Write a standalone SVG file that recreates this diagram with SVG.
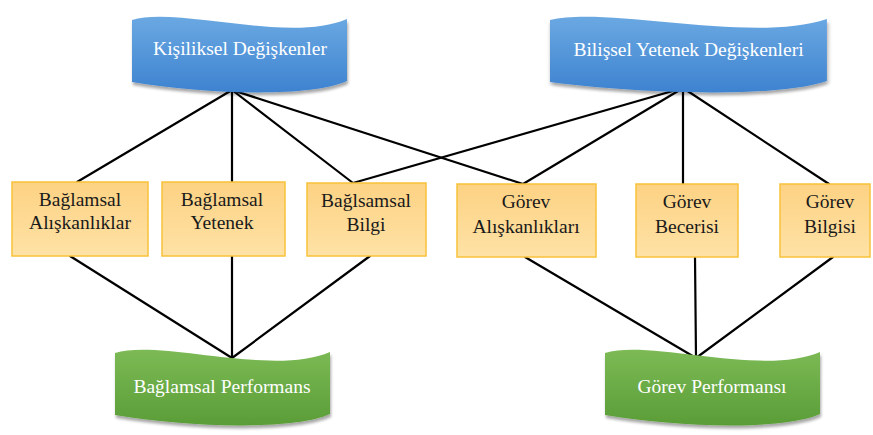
<svg xmlns="http://www.w3.org/2000/svg" width="873" height="435" viewBox="0 0 873 435">
<defs>
<linearGradient id="gBlue" x1="0" y1="0" x2="0" y2="1">
<stop offset="0" stop-color="#6aa8e2"/><stop offset="1" stop-color="#3e83d0"/>
</linearGradient>
<linearGradient id="gGreen" x1="0" y1="0" x2="0" y2="1">
<stop offset="0" stop-color="#7cba55"/><stop offset="1" stop-color="#5a9d37"/>
</linearGradient>
<linearGradient id="gOrange" x1="0" y1="0" x2="0" y2="1">
<stop offset="0" stop-color="#fdd283"/><stop offset="1" stop-color="#fee2a6"/>
</linearGradient>
<filter id="sh" x="-5%" y="-10%" width="110%" height="130%">
<feGaussianBlur in="SourceAlpha" stdDeviation="1.6"/>
<feOffset dx="1" dy="2.5" result="b"/>
<feComponentTransfer><feFuncA type="linear" slope="0.35"/></feComponentTransfer>
<feMerge><feMergeNode/><feMergeNode in="SourceGraphic"/></feMerge>
</filter>
<path id="wave" d="M0,6 C45,-8 158,30 215,5 L215,67 C178,84 70,80 0,68 Z"/>
</defs>
<style>
text{font-family:'Liberation Serif','Times New Roman',Tinos,'Noto Serif','DejaVu Serif',Times,serif;font-size:19.5px;text-anchor:middle}
.bt{fill:#ffffff}
.ot{fill:#1a1a1a}
.box{fill:url(#gOrange);stroke:#f8c23a;stroke-width:1.5}
.ln{stroke:#000000;stroke-width:2.2;fill:none;stroke-linecap:round}
</style>
<g id="connectors">
<line class="ln" x1="232" y1="90" x2="77" y2="182"/>
<line class="ln" x1="232" y1="90" x2="232" y2="182"/>
<line class="ln" x1="232" y1="90" x2="353" y2="183"/>
<line class="ln" x1="232" y1="90" x2="523" y2="184"/>
<line class="ln" x1="683" y1="88" x2="353" y2="183"/>
<line class="ln" x1="683" y1="88" x2="523" y2="184"/>
<line class="ln" x1="683" y1="88" x2="683" y2="184"/>
<line class="ln" x1="683" y1="88" x2="829" y2="184"/>
<line class="ln" x1="70" y1="256" x2="232" y2="358"/>
<line class="ln" x1="232" y1="256" x2="232" y2="358"/>
<line class="ln" x1="370" y1="256" x2="232" y2="358"/>
<line class="ln" x1="525" y1="257" x2="696" y2="358"/>
<line class="ln" x1="695" y1="257" x2="696" y2="358"/>
<line class="ln" x1="833" y1="257" x2="696" y2="358"/>
</g>
<g id="kisiliksel">
<use href="#wave" fill="url(#gBlue)" filter="url(#sh)" transform="translate(132,14)"/>
<text class="bt" x="240" y="55">Kişiliksel Değişkenler</text>
</g>
<g id="bilissel">
<use href="#wave" fill="url(#gBlue)" filter="url(#sh)" transform="translate(550,14) scale(1.288,1)"/>
<text class="bt" x="688.5" y="56">Bilişsel Yetenek Değişkenleri</text>
</g>
<g id="b1">
<rect class="box" x="12" y="182" width="136" height="74"/>
<text class="ot" x="80" y="206">Bağlamsal</text>
<text class="ot" x="80" y="229">Alışkanlıklar</text>
</g>
<g id="b2">
<rect class="box" x="162" y="182" width="123" height="74"/>
<text class="ot" x="222" y="206">Bağlamsal</text>
<text class="ot" x="222" y="229">Yetenek</text>
</g>
<g id="b3">
<rect class="box" x="307" y="183" width="119" height="73"/>
<text class="ot" x="366" y="207">Bağlsamsal</text>
<text class="ot" x="366" y="231">Bilgi</text>
</g>
<g id="b4">
<rect class="box" x="457" y="184" width="139" height="73"/>
<text class="ot" x="526" y="208">Görev</text>
<text class="ot" x="526" y="233">Alışkanlıkları</text>
</g>
<g id="b5">
<rect class="box" x="636" y="184" width="102" height="73"/>
<text class="ot" x="687" y="208">Görev</text>
<text class="ot" x="687" y="233">Becerisi</text>
</g>
<g id="b6">
<rect class="box" x="780" y="184" width="90" height="73"/>
<text class="ot" x="830" y="208">Görev</text>
<text class="ot" x="830" y="233">Bilgisi</text>
</g>
<g id="baglamsal-performans">
<use href="#wave" fill="url(#gGreen)" filter="url(#sh)" transform="translate(115,347)"/>
<text class="bt" x="222" y="393">Bağlamsal Performans</text>
</g>
<g id="gorev-performansi">
<use href="#wave" fill="url(#gGreen)" filter="url(#sh)" transform="translate(605,347)"/>
<text class="bt" x="712" y="393">Görev Performansı</text>
</g>
</svg>
